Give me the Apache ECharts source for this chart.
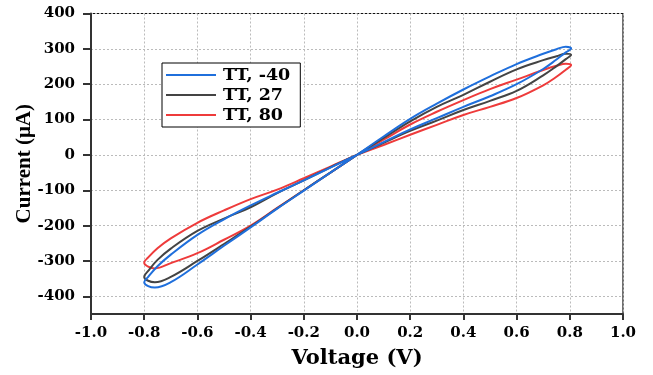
<!DOCTYPE html>
<html><head><meta charset="utf-8">
<script src="https://cdn.jsdelivr.net/npm/echarts@6/dist/echarts.min.js"></script>
<style>html,body{margin:0;padding:0;background:#fff}#c{width:653px;height:375px}</style>
</head><body><div id="c"></div><script>
// Voltage sweep (V): 0 -> 0.8 -> 0 -> -0.8 -> 0
const voltage = [0, 0.1, 0.2, 0.3, 0.4, 0.5, 0.6, 0.7, 0.75, 0.785, 0.805,
  0.785, 0.75, 0.7, 0.6, 0.5, 0.4, 0.3, 0.2, 0.1, 0,
  -0.1, -0.2, -0.3, -0.4, -0.5, -0.6, -0.7, -0.75, -0.785, -0.8,
  -0.785, -0.76, -0.7, -0.6, -0.5, -0.4, -0.3, -0.2, -0.1, 0];
// Current (uA)
const currentM40 = [0, 52, 102, 145, 185, 222, 257, 286, 299, 306, 301,
  290, 270, 243, 200, 166, 136, 104, 72, 36, 0,
  -36, -72, -107, -143, -182, -226, -282, -315, -345, -360,
  -371, -375, -360, -310, -257, -205, -152, -101, -50, 0];
const current27 = [0, 48, 95, 136, 170, 207, 242, 268, 279, 286, 283,
  271, 251, 225, 181, 153, 127, 97, 68, 34, 0,
  -35, -72, -108, -148, -180, -215, -265, -297, -328, -345,
  -356, -360, -345, -300, -252, -203, -151, -100, -50, 0];
const current80 = [0, 43, 86, 122, 155, 186, 213, 240, 252, 258, 254,
  241, 221, 197, 161, 136, 113, 85, 57, 28, 0,
  -33, -66, -98, -125, -157, -192, -236, -264, -290, -305,
  -316, -321, -306, -278, -240, -200, -150, -100, -50, 0];
const seriesNames = ['TT, -40', 'TT, 27', 'TT, 80'];
const seriesColors = ['#1f6fdc', '#444444', '#ee3b3b'];
const yTicks = [-400, -300, -200, -100, 0, 100, 200, 300, 400];

const font = 'DejaVu Serif';
const toPts = arr => voltage.map((v, i) => [v, arr[i]]);
const curves = [currentM40, current27, current80];
const chart = echarts.init(document.getElementById('c'));
chart.setOption({
  animation: false,
  backgroundColor: '#fff',
  grid: {left: 91, right: 30, top: 13.5, bottom: 61, show: true, borderColor: '#111', borderWidth: 1.2, backgroundColor: 'transparent'},
  legend: {
    data: seriesNames.map(n => ({name: n, icon: 'rect'})), orient: 'vertical', left: 162, top: 63,
    itemWidth: 50, itemHeight: 2, itemGap: 2,
    padding: [3, 10, 3, 4],
    backgroundColor: '#fff', borderColor: '#000', borderWidth: 1, borderRadius: 0,
    textStyle: {fontFamily: font, fontWeight: 'bold', fontSize: 17.5, color: '#000', padding: [0, 0, 0, 2]}
  },
  xAxis: {
    type: 'value', min: -1, max: 1, interval: 0.2,
    name: 'Voltage (V)', nameLocation: 'middle', nameGap: 34, nameMoveOverlap: false,
    nameTextStyle: {fontFamily: font, fontWeight: 'bold', fontSize: 21, color: '#000'},
    axisLine: {onZero: false, lineStyle: {color: '#333', width: 2}},
    axisTick: {show: true, inside: false, length: 6, lineStyle: {color: '#333', width: 2}},
    axisLabel: {margin: 12, fontFamily: font, fontWeight: 'bold', fontSize: 15, color: '#000',
      formatter: v => v.toFixed(1)},
    splitLine: {show: true, lineStyle: {color: '#bbb', width: 1, type: [2, 2]}}
  },
  yAxis: {
    type: 'value', min: -450, max: 400,
    name: 'Current (μA)', nameLocation: 'middle', nameGap: 56, nameMoveOverlap: false,
    nameTextStyle: {fontFamily: 'Liberation Serif', fontWeight: 'bold', fontSize: 21, color: '#000'},
    axisLine: {onZero: false, lineStyle: {color: '#333', width: 2}},
    axisTick: {show: true, inside: false, length: 8, lineStyle: {color: '#333', width: 2}, customValues: yTicks},
    axisLabel: {margin: 16, fontFamily: font, fontWeight: 'bold', fontSize: 15, color: '#000', customValues: yTicks},
    splitLine: {show: true, lineStyle: {color: '#bbb', width: 1, type: [2, 2]}}
  },
  series: curves.map((c, i) => ({
    name: seriesNames[i], type: 'line', data: toPts(c), symbol: 'none', smooth: 0.4,
    z: 4 - i,
    lineStyle: {color: seriesColors[i], width: 2}, itemStyle: {color: seriesColors[i]}
  }))
});
</script></body></html>
